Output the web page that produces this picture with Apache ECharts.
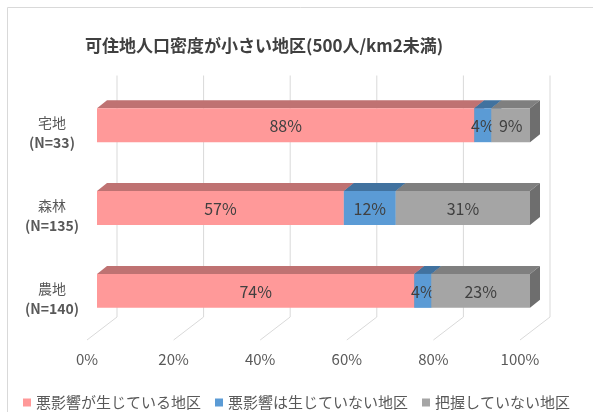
<!DOCTYPE html>
<html>
<head>
<meta charset="utf-8">
<script src="https://cdn.jsdelivr.net/npm/echarts@6/dist/echarts.min.js"></script>
<style>
  html, body { margin: 0; padding: 0; background: #fff; }
  #chart { width: 593px; height: 412px; }
</style>
</head>
<body>
<div id="chart"></div>
<script>
// データ
const categories = ['宅地', '森林', '農地']
const sampleSizes = [33, 135, 140]
const harmful = [88, 57, 74]
const notHarmful = [4, 12, 4]
const unknown = [9, 31, 23]
const seriesNames = ['悪影響が生じている地区', '悪影響は生じていない地区', '把握していない地区']
const xTicks = [0, 20, 40, 60, 80, 100]

const FONT = '"Noto Sans CJK JP", "Noto Sans", sans-serif'
// 疑似3Dのオフセット
const WALL_DX = 30, WALL_DY = 23
const BOX_SHIFT_X = 10, BOX_SHIFT_Y = 7.7
const BOX_DX = 10, BOX_DY = 8

const faceColors = [
    { front: '#FF9999', top: '#BF7272', side: '#B06464' },
    { front: '#5B9BD5', top: '#41729F', side: '#3A6690' },
    { front: '#A5A5A5', top: '#7F7F7F', side: '#6E6E6E' }
]

// 100%積み上げ用に行ごとに正規化
const rows = [harmful, notHarmful, unknown]
const totals = categories.map((_, i) => rows.reduce((s, r) => s + r[i], 0))
const buildSeriesData = (k) => categories.map((_, i) => {
    let start = 0
    for (let j = 0; j < k; j++) start += rows[j][i] / totals[i] * 100
    const end = start + rows[k][i] / totals[i] * 100
    return [i, start, end, rows[k][i]]
})

const renderBox = (k) => (params, api) => {
    const cat = api.value(0)
    const p0 = api.coord([api.value(1), cat])
    const p1 = api.coord([api.value(2), cat])
    const bh = api.size([0, 1])[1] * 0.41
    const x0 = p0[0] + BOX_SHIFT_X, x1 = p1[0] + BOX_SHIFT_X
    const yc = p0[1] - BOX_SHIFT_Y
    const yt = yc - bh / 2, yb = yc + bh / 2
    const c = faceColors[k]
    return {
        type: 'group',
        children: [
            { type: 'polygon', shape: { points: [[x0, yt], [x1, yt], [x1 + BOX_DX, yt - BOX_DY], [x0 + BOX_DX, yt - BOX_DY]] }, style: { fill: c.top } },
            { type: 'polygon', shape: { points: [[x1, yt], [x1 + BOX_DX, yt - BOX_DY], [x1 + BOX_DX, yb - BOX_DY], [x1, yb]] }, style: { fill: c.side } },
            { type: 'rect', shape: { x: x0, y: yt, width: x1 - x0, height: bh }, style: { fill: c.front } },
            {
                type: 'text',
                style: {
                    text: api.value(3) + '%', x: (x0 + x1) / 2, y: yc + 1,
                    align: 'center', verticalAlign: 'middle',
                    fill: '#404040', font: '16px ' + FONT
                }
            }
        ]
    }
}

const renderWall = (params, api) => {
    const cs = params.coordSys
    const p = api.coord([api.value(0), 0])
    const bottom = cs.y + cs.height
    const style = { stroke: '#D9D9D9', lineWidth: 1, fill: null }
    return {
        type: 'group',
        children: [
            { type: 'line', shape: { x1: p[0] + WALL_DX, y1: cs.y - 16, x2: p[0] + WALL_DX, y2: bottom - WALL_DY }, style },
            { type: 'line', shape: { x1: p[0] + WALL_DX, y1: bottom - WALL_DY, x2: p[0], y2: bottom }, style }
        ]
    }
}

const chart = echarts.init(document.getElementById('chart'))
chart.setOption({
    animation: false,
    textStyle: { fontFamily: FONT },
    graphic: [{
        type: 'rect', left: 5, top: 5,
        shape: { width: 620, height: 440 },
        style: { fill: null, stroke: '#D9D9D9', lineWidth: 1 }, z: -10
    }],
    title: {
        text: '可住地人口密度が小さい地区(500人/km2未満)',
        left: 80, top: 32,
        textStyle: { fontSize: 17, fontWeight: 'bold', color: '#404040', fontFamily: FONT }
    },
    legend: {
        data: seriesNames,
        left: 18, top: 390,
        icon: 'rect', itemWidth: 8, itemHeight: 8, itemGap: 14,
        textStyle: { fontSize: 15, color: '#595959', fontFamily: FONT }
    },
    grid: { left: 87, width: 433, top: 91.5, bottom: 72 },
    xAxis: {
        type: 'value', min: 0, max: 100, interval: 20,
        axisLine: { show: false }, axisTick: { show: false }, splitLine: { show: false },
        axisLabel: { formatter: '{value}%', margin: 12, fontSize: 15, color: '#595959', fontFamily: FONT }
    },
    yAxis: {
        type: 'category', inverse: true, data: categories,
        axisLine: { show: false }, axisTick: { show: false },
        axisLabel: {
            margin: 35, align: 'center',
            formatter: (v, i) => `{a|${v}}\n{b|(N=${sampleSizes[i]})}`,
            rich: {
                a: { fontSize: 14, color: '#595959', lineHeight: 20, fontFamily: FONT, align: 'center' },
                b: { fontSize: 14, color: '#595959', lineHeight: 20, fontWeight: 'bold', fontFamily: FONT, align: 'center' }
            }
        }
    },
    series: [
        { type: 'custom', name: 'wall', data: xTicks.map(t => [t]), renderItem: renderWall, silent: true, z: 1, encode: { x: 0 } },
        ...seriesNames.map((name, k) => ({
            type: 'custom', name,
            itemStyle: { color: faceColors[k].front },
            data: buildSeriesData(k),
            encode: { y: 0, x: [1, 2] },
            renderItem: renderBox(k),
            z: 2 + k
        }))
    ]
})
</script>
</body>
</html>
